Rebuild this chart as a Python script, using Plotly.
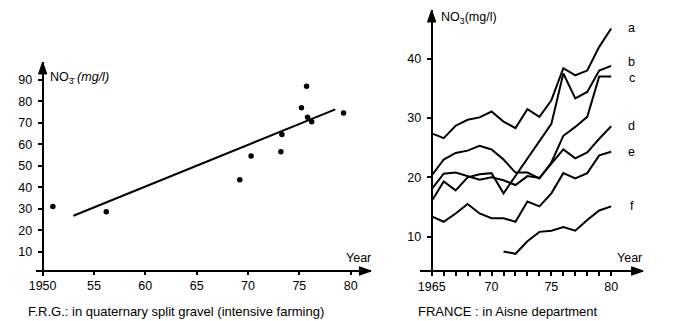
import plotly.graph_objects as go

# ---- F.R.G.: quaternary split gravel (intensive farming) ----
frg_years = [1951.0, 1956.2, 1969.2, 1970.3, 1973.2, 1973.3, 1975.2, 1975.7, 1975.8, 1976.2, 1979.3]
frg_no3 = [31, 28.6, 43.5, 54.5, 56.5, 64.5, 77, 87, 72.5, 70.5, 74.5]
frg_trend_years = [1953.0, 1978.5]
frg_trend_no3 = [26.7, 76.2]
frg_tickvals = [1950, 1955, 1960, 1965, 1970, 1975, 1980]
frg_ticktext = ["1950", "55", "60", "65", "70", "75", "80"]
frg_yticks = [10, 20, 30, 40, 50, 60, 70, 80, 90]

# ---- FRANCE: Aisne department ----
fr_years = list(range(1965, 1981))
fr_series = {
    "a": [27.4, 26.6, 28.7, 29.7, 30.1, 31.1, 29.4, 28.3, 31.5, 30.2, 33.0, 38.4, 37.2, 38.0, 42.0, 45.1],
    "b": [16.0, 19.3, 17.8, 20.0, 20.5, 20.7, 17.3, 20.2, 23.2, 26.1, 29.0, 37.5, 33.3, 34.4, 38.0, 38.8],
    "c": [20.3, 23.0, 24.1, 24.5, 25.3, 24.7, 23.0, 20.8, 20.8, 19.8, 22.5, 27.0, 28.5, 30.2, 37.0, 37.0],
    "d": [18.0, 20.6, 20.8, 20.2, 19.6, 20.0, 19.5, 18.7, 20.2, 19.9, 22.3, 24.7, 23.2, 24.2, 26.5, 28.6],
    "e": [13.4, 12.5, 13.9, 15.5, 13.9, 13.1, 13.1, 12.5, 15.9, 15.1, 17.3, 20.7, 19.8, 20.7, 23.7, 24.3],
    "f": [None, None, None, None, None, None, 7.5, 7.1, 9.2, 10.8, 11.0, 11.6, 11.0, 12.8, 14.4, 15.1],
}
fr_tickvals = list(range(1965, 1981))
fr_ticktext = ["1965" if y == 1965 else (str(y - 1900) if y % 5 == 0 else "") for y in fr_tickvals]
fr_yticks = [10, 20, 30, 40]

FONT = "Liberation Sans, Arial, sans-serif"
W, H = 690, 321


def px(x):
    return x / W


def py(y):
    return 1 - y / H


# panel geometry (pixels) and scales
AXIS_Y = 271          # pixel row of both x axes
PLOT_BOTTOM = 276     # bottom of plotting area (a little below the x axes)
L = dict(x0=29, x1=368, yx=36, top=62, rx0=1949.33, rx1=1982.0,
         ppu_y=2.15, ref_px=251.7, ref_v=10)
R = dict(x0=417, x1=643, yx=429, top=10, rx0=1964.0, rx1=1982.7,
         ppu_y=5.93, ref_px=58.7, ref_v=40)
for P in (L, R):
    P["ppu_x"] = (P["x1"] - P["x0"]) / (P["rx1"] - P["rx0"])
    v = lambda p, P=P: P["ref_v"] + (P["ref_px"] - p) / P["ppu_y"]
    P["ry0"], P["ry1"], P["axis_v"] = v(PLOT_BOTTOM), v(P["top"]), v(AXIS_Y)
    P["yaxis_year"] = P["rx0"] + (P["yx"] - P["x0"]) / P["ppu_x"]

fig = go.Figure()

fig.add_trace(go.Scatter(x=frg_years, y=frg_no3, mode="markers",
                         marker=dict(color="black", size=5.5), xaxis="x", yaxis="y"))
fig.add_trace(go.Scatter(x=frg_trend_years, y=frg_trend_no3, mode="lines",
                         line=dict(color="black", width=2), xaxis="x", yaxis="y"))

for name, vals in fr_series.items():
    fig.add_trace(go.Scatter(x=fr_years, y=vals, mode="lines",
                             line=dict(color="black", width=2), xaxis="x2", yaxis="y2"))


# filled arrowheads at the ends of the axes
def add_heads(P, xa, ya, length=12, half=4.2):
    lx, hx = length / P["ppu_x"], half / P["ppu_x"]
    ly, hy = length / P["ppu_y"], half / P["ppu_y"]
    xe, ye = P["rx1"], P["axis_v"]
    fig.add_trace(go.Scatter(x=[xe, xe - lx, xe - lx, xe], y=[ye, ye + hy, ye - hy, ye],
                             mode="lines", fill="toself", fillcolor="black",
                             line=dict(color="black", width=1), xaxis=xa, yaxis=ya))
    xt, yt = P["yaxis_year"], P["ry1"]
    fig.add_trace(go.Scatter(x=[xt, xt - hx, xt + hx, xt], y=[yt, yt - ly, yt - ly, yt],
                             mode="lines", fill="toself", fillcolor="black",
                             line=dict(color="black", width=1), xaxis=xa, yaxis=ya))


add_heads(L, "x", "y")
add_heads(R, "x2", "y2")

axis_common = dict(showgrid=False, zeroline=False, showline=True, linecolor="black",
                   linewidth=2, ticks="outside", tickcolor="black", tickwidth=1.5, tickangle=0,
                   tickfont=dict(family=FONT, size=12.5, color="black"))

fig.update_layout(
    width=W, height=H,
    margin=dict(l=0, r=0, t=0, b=0),
    paper_bgcolor="white", plot_bgcolor="rgba(0,0,0,0)",
    showlegend=False,
    xaxis=dict(domain=[px(L["x0"]), px(L["x1"])], range=[L["rx0"], L["rx1"]],
               anchor="free", position=py(AXIS_Y),
               tickvals=frg_tickvals, ticktext=frg_ticktext, ticklen=3, **axis_common),
    yaxis=dict(domain=[py(PLOT_BOTTOM), py(L["top"])], range=[L["ry0"], L["ry1"]],
               anchor="free", position=px(L["yx"]),
               tickvals=frg_yticks, ticklen=4, ticklabelstandoff=3, **axis_common),
    xaxis2=dict(domain=[px(R["x0"]), px(R["x1"])], range=[R["rx0"], R["rx1"]],
                anchor="free", position=py(AXIS_Y),
                tickvals=fr_tickvals, ticktext=fr_ticktext, ticklen=4, **axis_common),
    yaxis2=dict(domain=[py(PLOT_BOTTOM), py(R["top"])], range=[R["ry0"], R["ry1"]],
                anchor="free", position=px(R["yx"]),
                tickvals=fr_yticks, ticklen=4, ticklabelstandoff=3, **axis_common),
)

ann = []
txt = dict(family=FONT, size=12.5, color="black")
# axis titles
ann.append(dict(x=px(41), y=py(78), xref="paper", yref="paper", xanchor="left", yanchor="middle",
                text="NO<sub>3\u0304</sub> <i>(mg/l)</i>", showarrow=False, font=txt))
ann.append(dict(x=px(436), y=py(18), xref="paper", yref="paper", xanchor="left", yanchor="middle",
                text="NO<sub>3</sub>(mg/l)", showarrow=False, font=txt))
ann.append(dict(x=px(355), y=py(258), xref="paper", yref="paper", xanchor="center", yanchor="middle",
                text="Year", showarrow=False, font=txt))
ann.append(dict(x=px(629), y=py(258), xref="paper", yref="paper", xanchor="center", yanchor="middle",
                text="Year", showarrow=False, font=txt))

# captions
cap = dict(family=FONT, size=13, color="black")
ann.append(dict(x=px(171), y=py(311), xref="paper", yref="paper", xanchor="center", yanchor="middle",
                text="F.R.G.: in quaternary split gravel (intensive farming)", showarrow=False, font=cap))
ann.append(dict(x=px(506), y=py(311), xref="paper", yref="paper", xanchor="center", yanchor="middle",
                text="FRANCE : in Aisne department", showarrow=False, font=cap))

# series letters at the line ends
shifts = {"a": 0, "b": 4, "c": -2, "d": 0, "e": 0, "f": 0}
for name, vals in fr_series.items():
    ann.append(dict(x=1981.7, y=vals[-1], xref="x2", yref="y2", xanchor="center", yanchor="middle",
                    yshift=shifts[name], text=name, showarrow=False, font=txt))

fig.update_layout(annotations=ann)
fig.write_html("out.html")
